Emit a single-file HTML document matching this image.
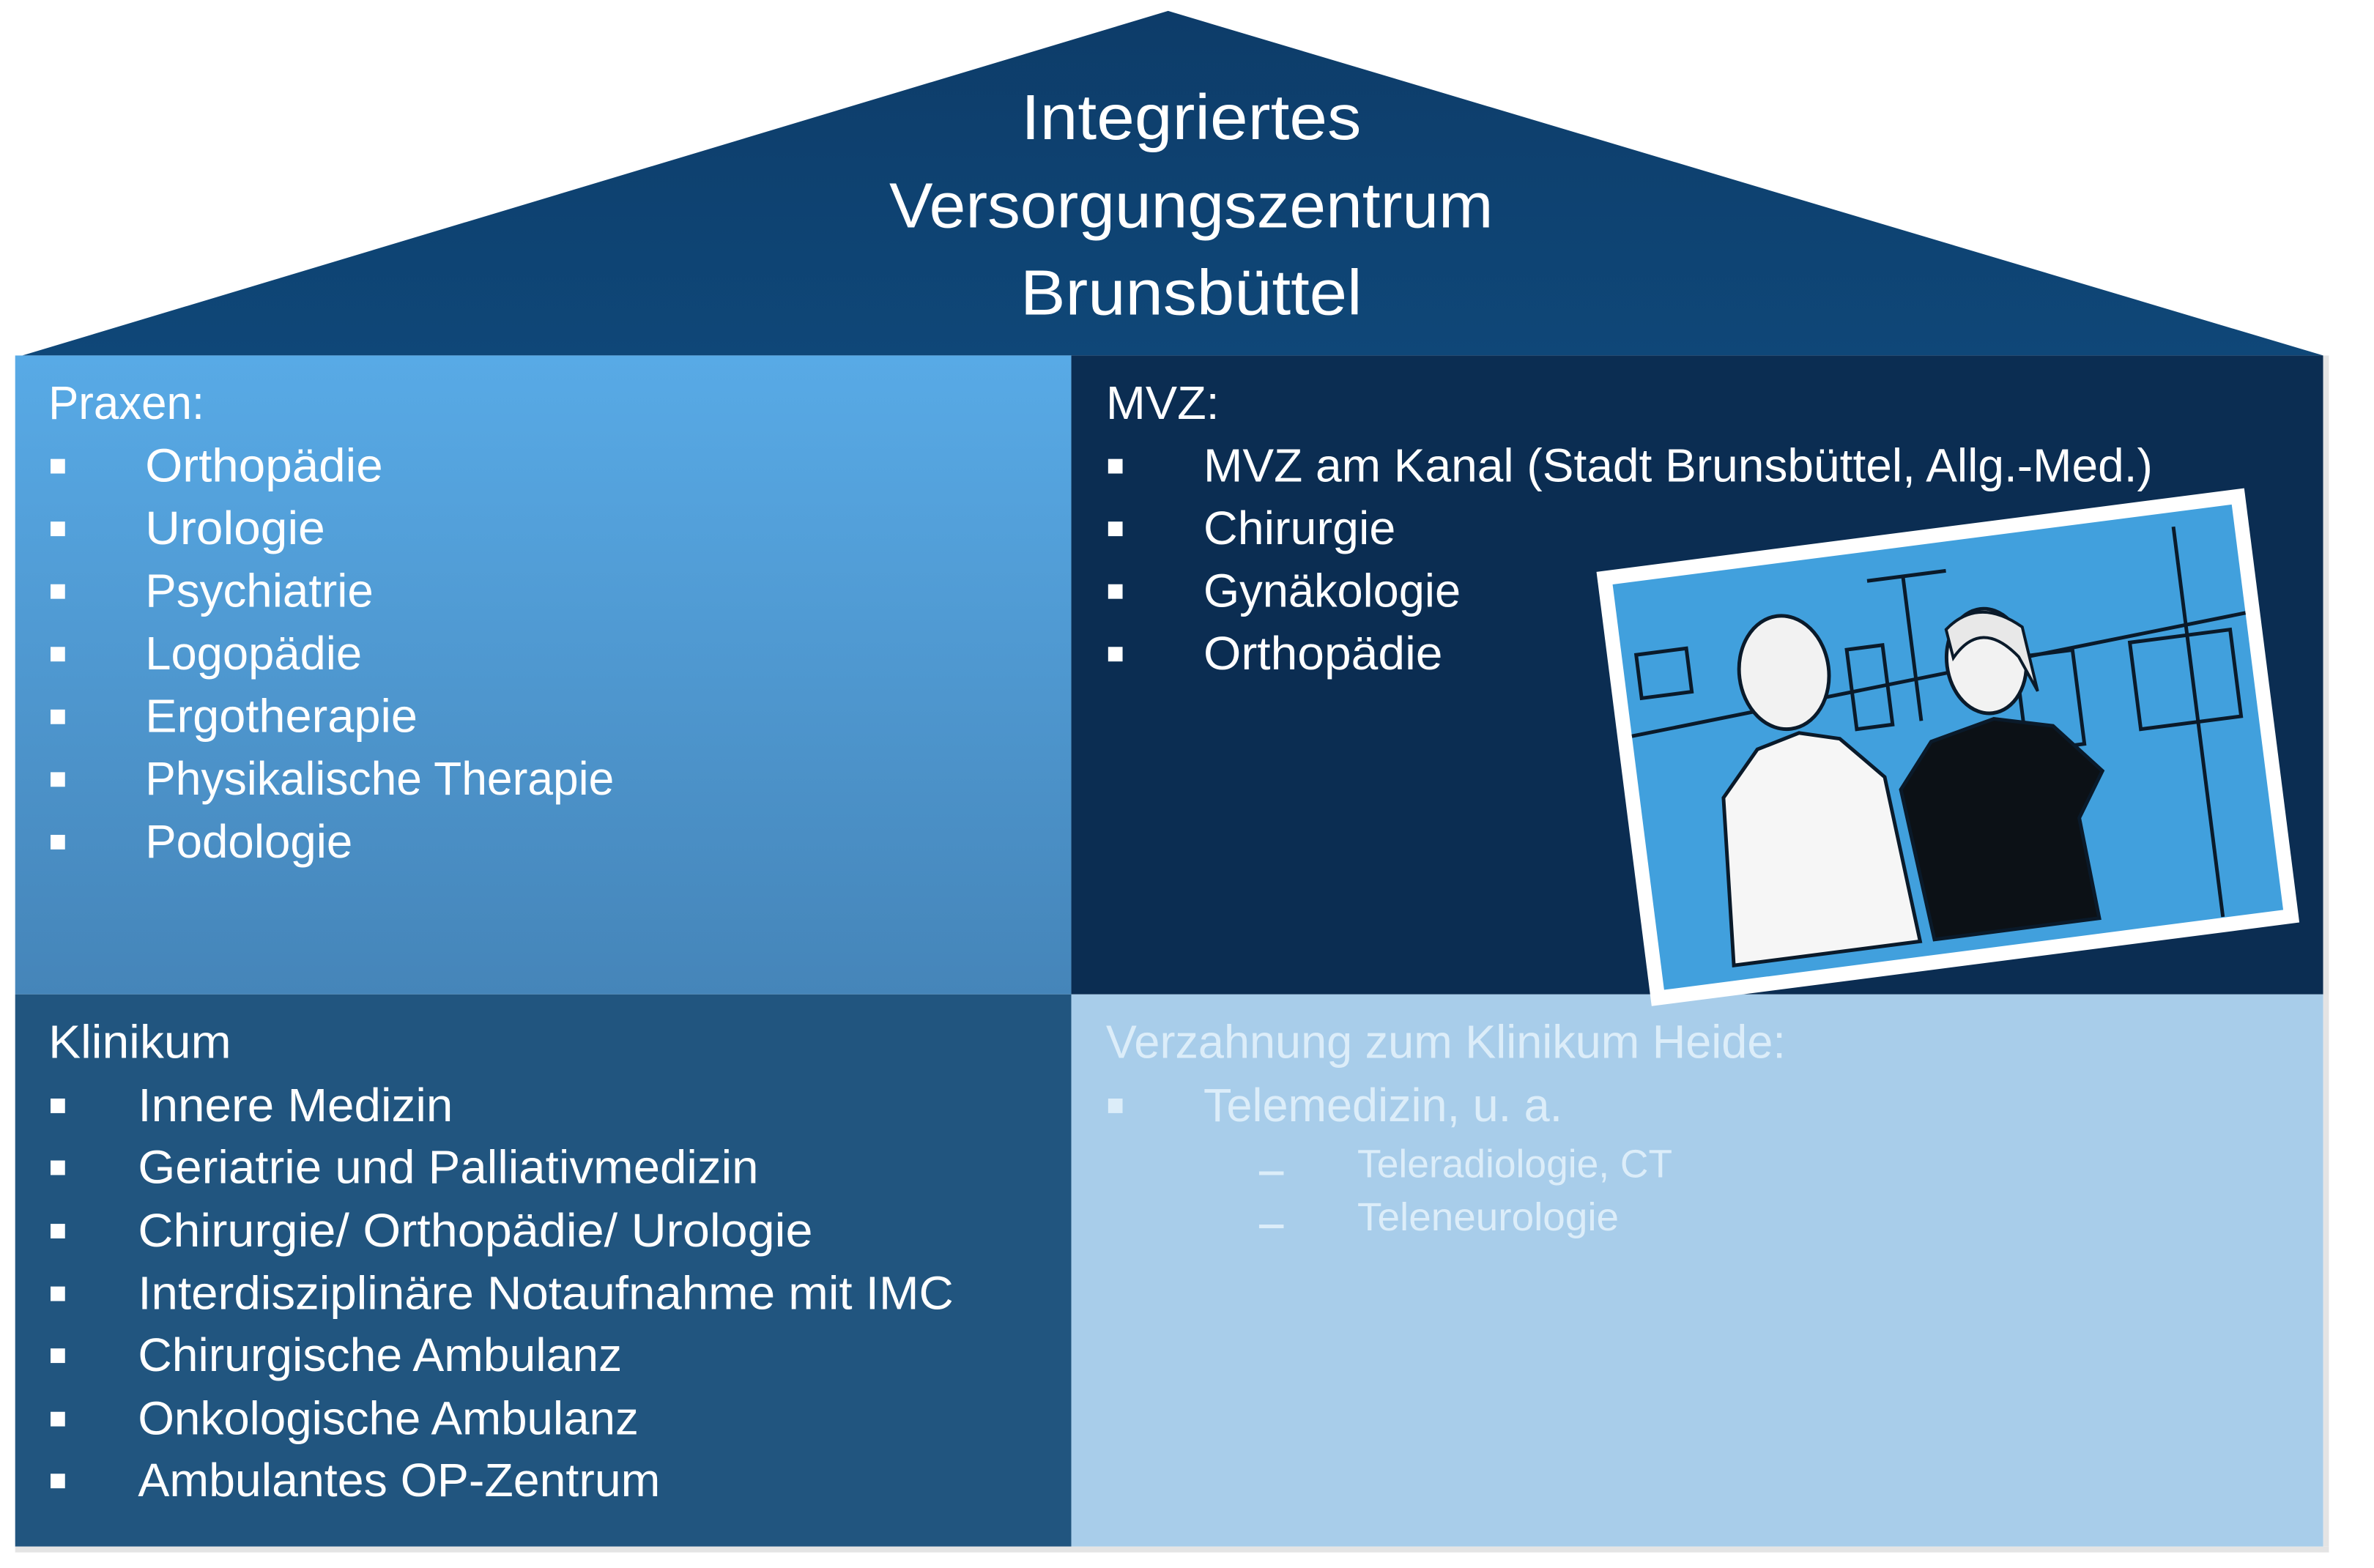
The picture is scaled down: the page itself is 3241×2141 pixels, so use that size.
<!DOCTYPE html>
<html><head><meta charset="utf-8"><style>
html,body{margin:0;padding:0;background:#fff}
svg{display:block}
text{font-family:"Liberation Sans",sans-serif}
</style></head><body>
<svg width="3241" height="2141" viewBox="0 0 3241 2141" xmlns="http://www.w3.org/2000/svg">
<defs>
<linearGradient id="roof" x1="0" y1="0" x2="0" y2="1"><stop offset="0" stop-color="#0d3c69"/><stop offset="1" stop-color="#0f4778"/></linearGradient>
<linearGradient id="prax" x1="0" y1="0" x2="0" y2="1"><stop offset="0" stop-color="#58aae6"/><stop offset="1" stop-color="#4585b9"/></linearGradient>
</defs>
<g transform="scale(0.9862,0.9947)">
<polygon points="1617,15 31,488 3216,488" fill="url(#roof)"/>
<rect x="21" y="488" width="1462" height="877" fill="url(#prax)"/>
<rect x="1483" y="488" width="1733" height="877" fill="#0b2d52"/>
<rect x="21" y="1365" width="1462" height="758" fill="#21557f"/>
<rect x="1483" y="1365" width="1733" height="758" fill="#a8cdea"/>
<rect x="3216" y="488" width="8" height="1635" fill="#e4e4e4"/>
<rect x="21" y="2123" width="3203" height="8" fill="#e4e4e4"/>

<g fill="#fff" font-size="88" text-anchor="middle">
<text x="1649" y="191" textLength="471" lengthAdjust="spacingAndGlyphs">Integriertes</text>
<text x="1649" y="312" textLength="836" lengthAdjust="spacingAndGlyphs">Versorgungszentrum</text>
<text x="1649" y="432" textLength="473" lengthAdjust="spacingAndGlyphs">Brunsbüttel</text>
</g>

<g fill="#fff" font-size="64">
<text x="67" y="575" textLength="216" lengthAdjust="spacingAndGlyphs">Praxen:</text>
<text x="201" y="661" textLength="329" lengthAdjust="spacingAndGlyphs">Orthopädie</text>
<text x="201" y="747" textLength="249" lengthAdjust="spacingAndGlyphs">Urologie</text>
<text x="201" y="833" textLength="316" lengthAdjust="spacingAndGlyphs">Psychiatrie</text>
<text x="201" y="919" textLength="300" lengthAdjust="spacingAndGlyphs">Logopädie</text>
<text x="201" y="1005" textLength="377" lengthAdjust="spacingAndGlyphs">Ergotherapie</text>
<text x="201" y="1091" textLength="649" lengthAdjust="spacingAndGlyphs">Physikalische Therapie</text>
<text x="201" y="1177" textLength="287" lengthAdjust="spacingAndGlyphs">Podologie</text>
<rect x="70" y="630" width="20" height="20"/><rect x="70" y="716" width="20" height="20"/><rect x="70" y="802" width="20" height="20"/><rect x="70" y="888" width="20" height="20"/><rect x="70" y="974" width="20" height="20"/><rect x="70" y="1060" width="20" height="20"/><rect x="70" y="1146" width="20" height="20"/>

<text x="1531" y="575" textLength="157" lengthAdjust="spacingAndGlyphs">MVZ:</text>
<text x="1666" y="661" textLength="1314" lengthAdjust="spacingAndGlyphs">MVZ am Kanal (Stadt Brunsbüttel, Allg.-Med.)</text>
<text x="1666" y="747" textLength="266" lengthAdjust="spacingAndGlyphs">Chirurgie</text>
<text x="1666" y="833" textLength="356" lengthAdjust="spacingAndGlyphs">Gynäkologie</text>
<text x="1666" y="919" textLength="331" lengthAdjust="spacingAndGlyphs">Orthopädie</text>
<rect x="1534" y="630" width="20" height="20"/><rect x="1534" y="716" width="20" height="20"/><rect x="1534" y="802" width="20" height="20"/><rect x="1534" y="888" width="20" height="20"/>

<text x="67" y="1452" textLength="253" lengthAdjust="spacingAndGlyphs">Klinikum</text>
<text x="191" y="1539" textLength="436" lengthAdjust="spacingAndGlyphs">Innere Medizin</text>
<text x="191" y="1624" textLength="859" lengthAdjust="spacingAndGlyphs">Geriatrie und Palliativmedizin</text>
<text x="191" y="1711" textLength="934" lengthAdjust="spacingAndGlyphs">Chirurgie/ Orthopädie/ Urologie</text>
<text x="191" y="1797" textLength="1129" lengthAdjust="spacingAndGlyphs">Interdisziplinäre Notaufnahme mit IMC</text>
<text x="191" y="1882" textLength="670" lengthAdjust="spacingAndGlyphs">Chirurgische Ambulanz</text>
<text x="191" y="1969" textLength="693" lengthAdjust="spacingAndGlyphs">Onkologische Ambulanz</text>
<text x="191" y="2054" textLength="723" lengthAdjust="spacingAndGlyphs">Ambulantes OP-Zentrum</text>
<rect x="70" y="1508" width="20" height="20"/><rect x="70" y="1593" width="20" height="20"/><rect x="70" y="1680" width="20" height="20"/><rect x="70" y="1766" width="20" height="20"/><rect x="70" y="1851" width="20" height="20"/><rect x="70" y="1938" width="20" height="20"/><rect x="70" y="2023" width="20" height="20"/>
</g>

<g fill="#dcedf9">
<text x="1531" y="1452" font-size="64" textLength="941" lengthAdjust="spacingAndGlyphs">Verzahnung zum Klinikum Heide:</text>
<text x="1666" y="1539" font-size="64" textLength="497" lengthAdjust="spacingAndGlyphs">Telemedizin, u. a.</text>
<rect x="1534" y="1508" width="20" height="20"/>
<text x="1879" y="1616" font-size="54" textLength="436" lengthAdjust="spacingAndGlyphs">Teleradiologie, CT</text>
<text x="1879" y="1689" font-size="54" textLength="362" lengthAdjust="spacingAndGlyphs">Teleneurologie</text>
<rect x="1743" y="1608" width="34" height="5"/>
<rect x="1743" y="1681" width="34" height="5"/>
</g>

<g transform="translate(2210,785) rotate(-7.3)">
<rect x="0" y="0" width="904" height="601" fill="#fff"/>
<rect x="20" y="20" width="864" height="561" fill="#41a0dd"/>
<g stroke="#0a1a2a" stroke-width="5" fill="none">
<line x1="20" y1="230" x2="884" y2="170"/>
<rect x="40" y="120" width="70" height="60"/>
<rect x="330" y="150" width="50" height="110"/>
<rect x="560" y="190" width="80" height="130"/>
<rect x="720" y="190" width="140" height="120"/>
<line x1="420" y1="60" x2="420" y2="260"/>
<line x1="370" y1="60" x2="480" y2="60"/>
<line x1="800" y1="40" x2="800" y2="580"/>
</g>
<path d="M120 560 L135 330 L190 270 L250 255 L305 270 L360 330 L380 560 Z" fill="#f6f6f6" stroke="#0a1a2a" stroke-width="5"/>
<ellipse cx="240" cy="170" rx="62" ry="78" fill="#f2f2f2" stroke="#0a1a2a" stroke-width="5"/>
<path d="M400 560 L380 350 L430 290 L520 270 L600 290 L660 360 L620 420 L630 560 Z" fill="#0c1116" stroke="#0a1a2a" stroke-width="5"/>
<ellipse cx="520" cy="190" rx="55" ry="72" fill="#f2f2f2" stroke="#0a1a2a" stroke-width="5"/>
<path d="M470 140 Q520 100 575 150 L585 240 L565 190 Q520 130 475 180 Z" fill="#e8e8e8" stroke="#0a1a2a" stroke-width="4"/>
</g>
</g>
</svg>
</body></html>
